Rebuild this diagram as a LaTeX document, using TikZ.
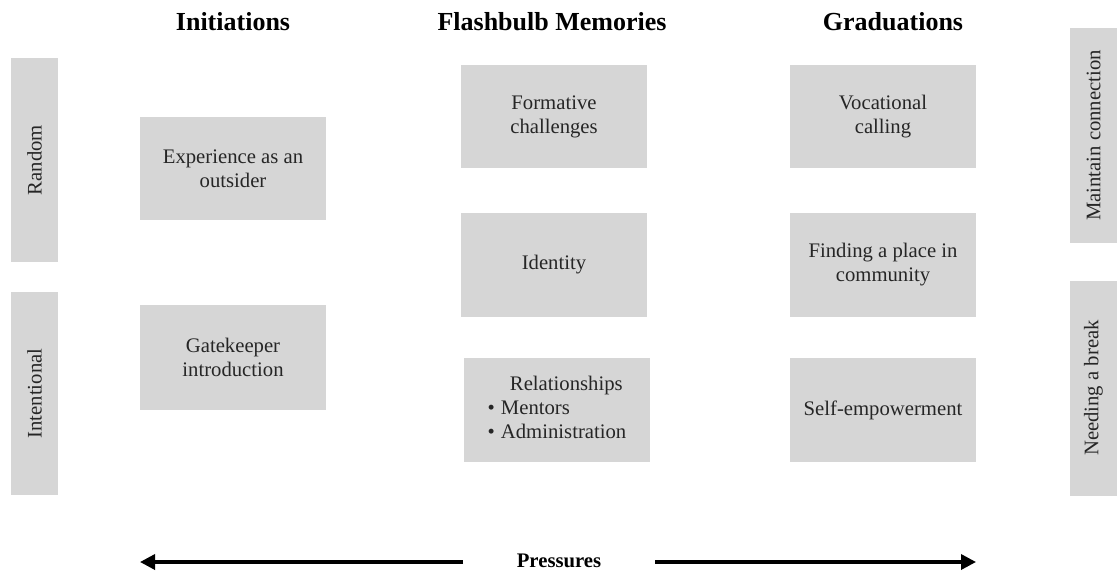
\documentclass[tikz,border=0pt]{standalone}
\usepackage{fontspec}
\setmainfont{Liberation Serif}
\usetikzlibrary{arrows.meta}
\definecolor{boxgray}{HTML}{D6D6D6}
\begin{document}
\begin{tikzpicture}[x=1pt,y=-1pt,
  box/.style={fill=boxgray, draw=none, inner sep=0pt, text=black!85, align=center,
    font=\fontsize{20.7}{24}\selectfont, minimum width=186pt, minimum height=104pt},
  sidebar/.style={fill=boxgray, draw=none, inner sep=0pt, text=black!85, rotate=90,
    font=\fontsize{20.7}{24}\selectfont, minimum height=47pt},
  heading/.style={font=\fontsize{26}{30}\selectfont\bfseries, text=black, inner sep=0pt},
  pressarrow/.style={line width=3.4pt, -{Triangle[length=15pt,width=15pt]}}
]
\useasboundingbox (0,0) rectangle (1118,583);

% headings
\node[heading] (hinit) at (233,22) {Initiations};
\node[heading] (hflash) at (552,22) {Flashbulb Memories};
\node[heading] (hgrad) at (893,22) {Graduations};

% left side bars
\node[sidebar, minimum width=204pt] (random) at (34.5,160) {Random};
\node[sidebar, minimum width=203pt] (intent) at (34.5,393.5) {Intentional};

% right side bars
\node[sidebar, minimum width=215pt] (maintain) at (1093.5,135.5) {Maintain connection};
\node[sidebar, minimum width=215pt] (needing) at (1093.5,388) {Needing a break};

% initiations column
\node[box, minimum height=103pt] (outsider) at (233,168.5) {Experience as an\\outsider};
\node[box, minimum height=105pt] (gate) at (233,357.5) {Gatekeeper\\introduction};

% flashbulb column
\node[box, minimum height=103pt] (formative) at (554,116.5) {Formative\\challenges};
\node[box] (identity) at (554,265) {Identity};
\node[box] (relations) at (557,410) {%
  \begin{tabular}{@{}c@{\hspace{6pt}}l@{}}
  & \hspace{9pt}Relationships\\
  \textbullet & Mentors\\
  \textbullet & Administration
  \end{tabular}};

% graduations column
\node[box, minimum height=103pt] (vocational) at (883,116.5) {Vocational\\calling};
\node[box] (finding) at (883,265) {Finding a place in\\community};
\node[box] (selfemp) at (883,410) {Self-empowerment};

% pressures
\node[font=\fontsize{20.7}{24}\selectfont\bfseries, inner sep=0pt] (press) at (559,561) {Pressures};
\coordinate (lstart) at (463,562);
\coordinate (lend) at (140,562);
\coordinate (rstart) at (655,562);
\coordinate (rend) at (976,562);
\draw[pressarrow] (lstart) -- (lend);
\draw[pressarrow] (rstart) -- (rend);
\end{tikzpicture}
\end{document}
